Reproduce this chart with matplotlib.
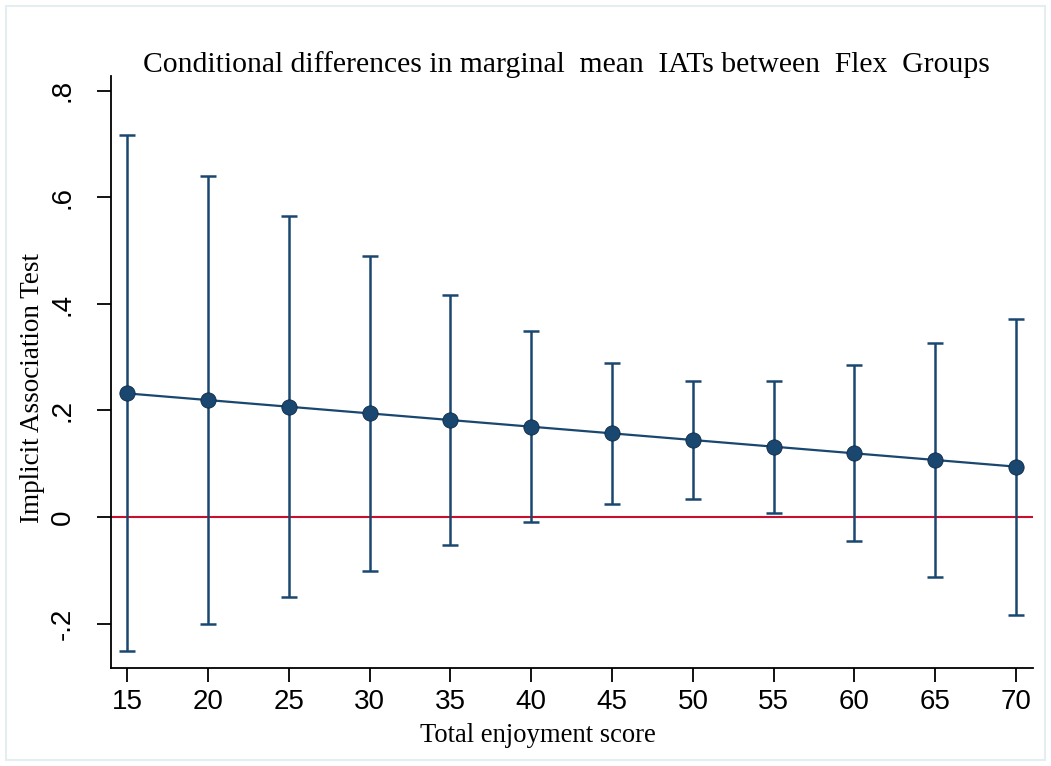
import numpy as np
import matplotlib
matplotlib.use("Agg")
import matplotlib.pyplot as plt
from matplotlib.patches import Rectangle

# data
scores = [15, 20, 25, 30, 35, 40, 45, 50, 55, 60, 65, 70]
margins = [0.232, 0.2195, 0.207, 0.1945, 0.182, 0.1695, 0.157, 0.1445, 0.132, 0.1195, 0.107, 0.0945]
ci_upper = [0.717, 0.640, 0.565, 0.490, 0.417, 0.349, 0.290, 0.255, 0.255, 0.285, 0.326, 0.372]
ci_lower = [-0.252, -0.201, -0.150, -0.101, -0.053, -0.010, 0.024, 0.034, 0.0075, -0.046, -0.112, -0.184]
yticks = [-0.2, 0, 0.2, 0.4, 0.6, 0.8]
ytick_labels = ["-.2", "0", ".2", ".4", ".6", ".8"]

navy = "#1a476f"
red = "#c8102e"

def main():
    fig = plt.figure(figsize=(10.51, 7.66), dpi=100)
    fig.patch.set_facecolor("white")
    fig.patches.append(Rectangle((0.006, 0.008), 0.988, 0.984, transform=fig.transFigure,
                                 fill=False, edgecolor="#e4eef1", linewidth=1.5))

    ax = fig.add_axes([0.1053, 0.1279, 0.8776, 0.7729])

    y = np.array(margins)
    yerr = [y - np.array(ci_lower), np.array(ci_upper) - y]
    ax.errorbar(scores, margins, yerr=yerr, fmt="none", ecolor=navy, elinewidth=1.8,
                capsize=6, capthick=1.8, zorder=2)
    ax.plot(scores, margins, color=navy, linewidth=1.6, marker="o", markersize=11,
            markerfacecolor=navy, markeredgecolor="#0e2a44", markeredgewidth=0.6, zorder=3)
    ax.axhline(0, color=red, linewidth=1.5, zorder=1)

    ax.set_xlim(13.97, 71.05)
    ax.set_ylim(-0.2836, 0.828)
    ax.set_xticks(scores)
    ax.set_xticklabels([str(s) for s in scores], fontsize=20, family="Liberation Sans")
    ax.set_yticks(yticks)
    ax.set_yticklabels(ytick_labels, fontsize=20, family="Liberation Sans",
                       rotation=90, va="center")
    ax.tick_params(axis="both", direction="out", length=10, width=1.3, color="black")
    ax.tick_params(axis="x", pad=5)
    ax.tick_params(axis="y", pad=15)

    for side in ["top", "right"]:
        ax.spines[side].set_visible(False)
    for side in ["left", "bottom"]:
        ax.spines[side].set_linewidth(1.3)

    ax.set_xlabel("Total enjoyment score", fontsize=19.2, family="Liberation Serif")
    ax.set_ylabel("Implicit Association Test", fontsize=19.5, family="Liberation Serif")
    ax.yaxis.set_label_coords(-0.071, 0.473)
    ax.xaxis.set_label_coords(0.463, -0.093)

    fig.text(0.5386, 0.9164, "Conditional differences in marginal  mean  IATs between  Flex  Groups",
             ha="center", va="center", fontsize=21.3, family="Liberation Serif")

    fig.savefig("out.png", dpi=100)

if __name__ == "__main__":
    main()
